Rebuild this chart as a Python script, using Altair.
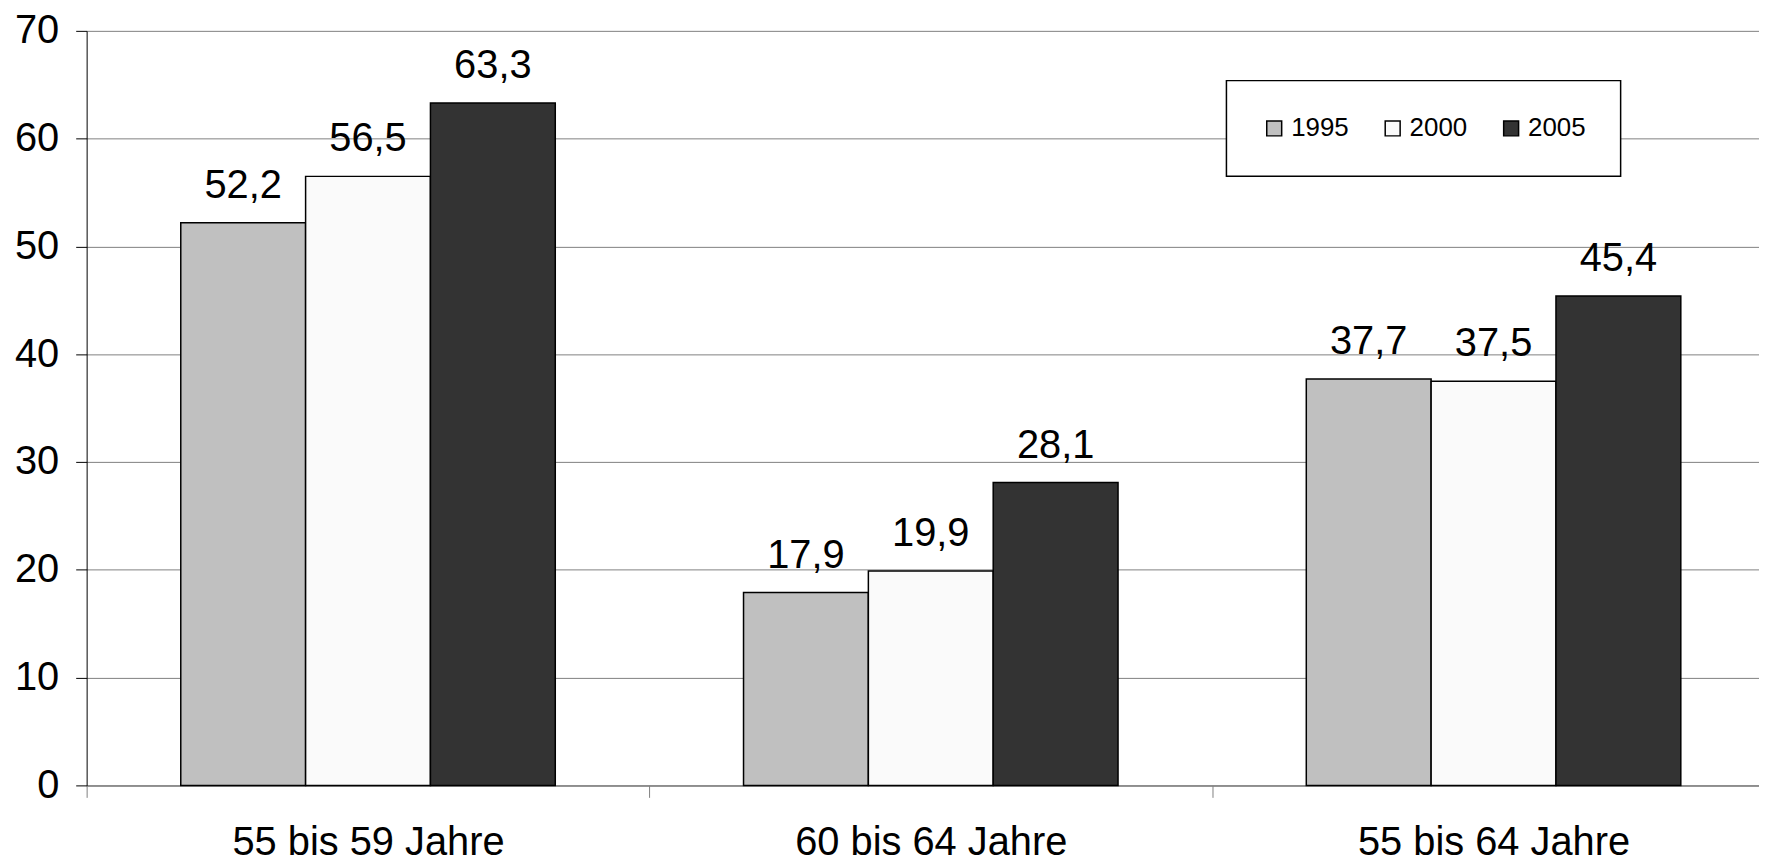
import altair as alt
import pandas as pd

categories = ["55 bis 59 Jahre", "60 bis 64 Jahre", "55 bis 64 Jahre"]
years = ["1995", "2000", "2005"]
v1995 = [52.2, 17.9, 37.7]
v2000 = [56.5, 19.9, 37.5]
v2005 = [63.3, 28.1, 45.4]
colors = ["#c0c0c0", "#fafafa", "#333333"]
y_ticks = [0, 10, 20, 30, 40, 50, 60, 70]

rows = []
for year, vals in zip(years, [v1995, v2000, v2005]):
    for cat, v in zip(categories, vals):
        rows.append({"Gruppe": cat, "Jahr": year, "Wert": v})
df = pd.DataFrame(rows)

FONT = "Liberation Sans"

base = alt.Chart(df).transform_calculate(
    label="replace(format(datum.Wert, '.1f'), '.', ',')"
).encode(
    x=alt.X(
        "Gruppe:N",
        sort=categories,
        title=None,
        scale=alt.Scale(range=[0, 1696], paddingInner=0, paddingOuter=0),
        axis=alt.Axis(
            labelAngle=0,
            labelFont=FONT,
            labelFontSize=40,
            labelColor="black",
            labelPadding=25,
            labelLimit=0,
            tickBand="extent",
            tickSize=12,
            tickColor="#808080",
            domainColor="#808080",
            domainWidth=1.5,
            grid=False,
        ),
    ),
    xOffset=alt.XOffset(
        "Jahr:N", sort=years, scale=alt.Scale(paddingInner=0, paddingOuter=0.754)
    ),
    y=alt.Y(
        "Wert:Q",
        title=None,
        scale=alt.Scale(domain=[0, 70], nice=False),
        axis=alt.Axis(
            values=y_ticks,
            labelFont=FONT,
            labelFontSize=40,
            labelColor="black",
            labelPadding=17,
            tickSize=11,
            tickColor="black",
            domainColor="black",
            domainWidth=1,
            gridColor="#808080",
            gridWidth=1,
        ),
    ),
)

bars = base.mark_bar(stroke="black", strokeWidth=1.5).encode(
    color=alt.Color(
        "Jahr:N",
        sort=years,
        scale=alt.Scale(domain=years, range=colors),
        legend=alt.Legend(
            title=None,
            orient="none",
            legendX=1145,
            legendY=50,
            direction="horizontal",
            labelFont=FONT,
            labelFontSize=26,
            labelColor="black",
            labelOffset=4,
            symbolType="square",
            symbolSize=225,
            symbolStrokeColor="black",
            symbolStrokeWidth=1.5,
            symbolOpacity=1,
            strokeColor="black",
            fillColor="white",
            padding=35,
            columnPadding=31,
        ),
    )
)

text = base.mark_text(
    baseline="alphabetic", dy=-25, fontSize=40, font=FONT, color="black"
).encode(text="label:N")

chart = (
    alt.layer(bars, text)
    .properties(
        width=1680,
        height=758,
        autosize=alt.AutoSizeParams(type="none"),
        padding={"left": 79, "top": 21, "right": 0, "bottom": 79},
        background="white",
    )
    .configure_view(stroke=None)
    .configure_legend(strokeWidth=1.5)
)

chart.save("out.html", embed_options={"renderer": "svg", "actions": False})
